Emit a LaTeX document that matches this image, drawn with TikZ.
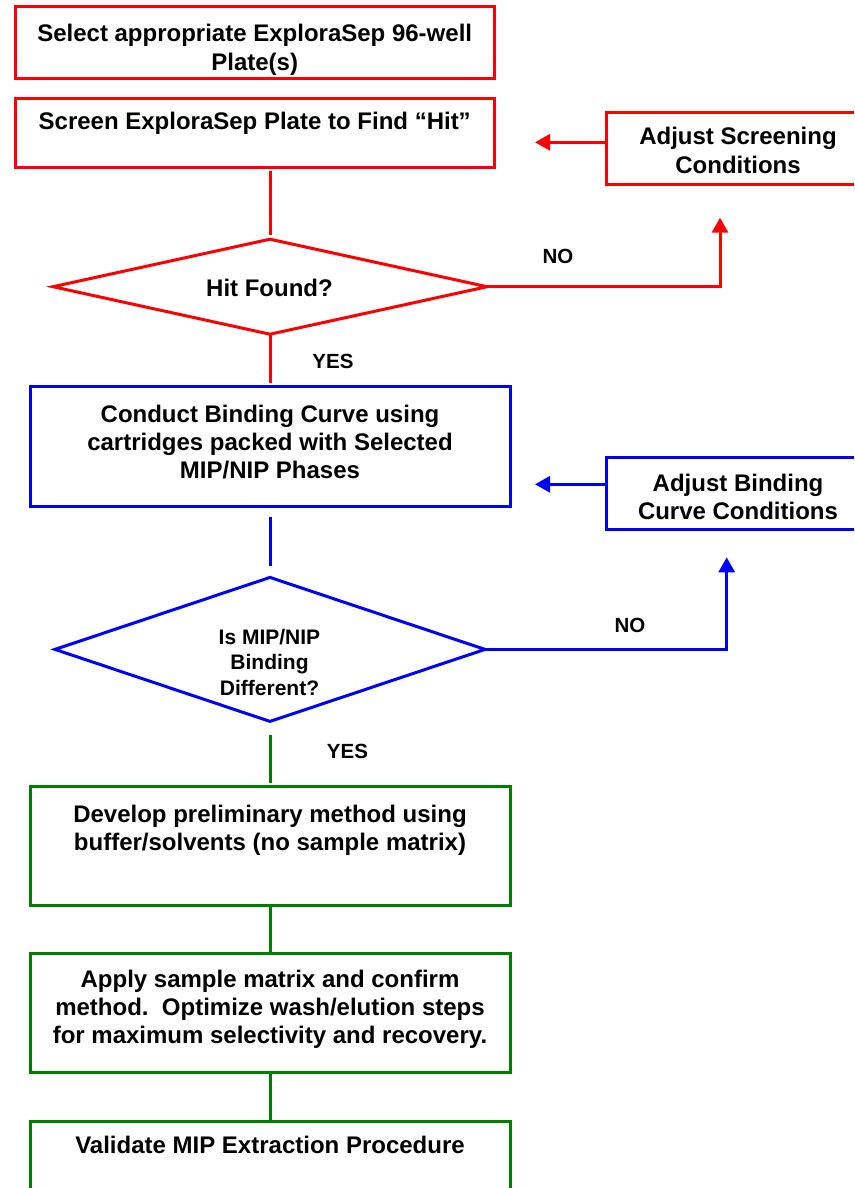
\documentclass[tikz,border=0pt]{standalone}
\usepackage{fontspec}
\setmainfont{Liberation Sans}
\usetikzlibrary{shapes.geometric,arrows.meta}
\definecolor{fred}{RGB}{255,0,0}
\definecolor{fblue}{RGB}{0,0,255}
\definecolor{fgreen}{RGB}{0,128,0}
% centred multi-line text whose baseline is the first line's
\newcommand\stack[1]{\begin{tabular}[t]{@{}c@{}}#1\end{tabular}}
\frenchspacing

\tikzset{
  stepbox/.style={draw, line width=3pt, rectangle, inner sep=0pt, outer sep=0pt},
  decision/.style={draw, line width=3pt, diamond, inner sep=0pt, outer sep=0pt},
  txt/.style={anchor=base, inner sep=0pt, outer sep=0pt, font=\bfseries\fontsize{24}{28.2}\selectfont},
  qtxt/.style={anchor=base, inner sep=0pt, outer sep=0pt, font=\bfseries\fontsize{21}{25.5}\selectfont},
  answer/.style={anchor=base, inner sep=0pt, outer sep=0pt, font=\bfseries\fontsize{20.5}{24}\selectfont},
  link/.style={line width=3pt},
  tip/.style={-{Triangle[length=15pt,width=16pt]}},
}

\begin{document}
\begin{tikzpicture}[x=1pt, y=-1pt]
  \useasboundingbox (0,0) rectangle (854,1188);
  \fill[white] (0,0) rectangle (854,1188);
  \clip (0,0) rectangle (854,1188);

  % ---- screening stage (red)
  \node[stepbox, draw=fred, minimum width=479.5pt, minimum height=72pt] (b1) at (254.75,43) {};
  \node[txt] (t1) at (254.7,42) {\stack{Select appropriate ExploraSep 96-well\\[0.3pt]Plate(s)}};

  \node[stepbox, draw=fred, minimum width=479.5pt, minimum height=69pt] (b2) at (254.75,133) {};
  \node[txt] (t2) at (254.7,130) {Screen ExploraSep Plate to Find “Hit”};

  \node[stepbox, draw=fred, minimum width=273.3pt, minimum height=71.6pt] (adj1) at (743.35,148.5) {};
  \node[txt] (ta1) at (738,145) {\stack{Adjust Screening\\Conditions}};

  \node[decision, draw=fred, minimum width=434pt, minimum height=95pt] (d1) at (270,286.7) {};
  \node[txt] (td1) at (269.5,296) {Hit Found?};

  \node[answer] (no1) at (558,263) {NO};
  \node[answer] (yes1) at (333,368) {YES};

  \coordinate (n1) at (720,217.7);
  \coordinate (a1) at (535,142.3);

  \draw[link, fred, shorten <=3.5pt, shorten >=4.5pt] (d1.north |- b2.south) -- (d1.north);
  \draw[link, fred, shorten >=4pt] (d1.south) -- (d1.south |- 0,386.7);
  \draw[link, fred, tip] (d1.east) -| (n1);
  \draw[link, fred, tip] (adj1.west |- a1) -- (a1);

  % ---- binding stage (blue)
  \node[stepbox, draw=fblue, minimum width=480pt, minimum height=119.3pt] (b3) at (270,446.35) {};
  \node[txt] (t3) at (270,422) {\stack{Conduct Binding Curve using\\cartridges packed with Selected\\MIP/NIP Phases}};

  \node[stepbox, draw=fblue, minimum width=273.3pt, minimum height=71.3pt] (adj2) at (743.35,493.35) {};
  \node[txt] (ta2) at (738,491) {\stack{Adjust Binding\\Curve Conditions}};

  \node[decision, draw=fblue, minimum width=430pt, minimum height=144pt] (d2) at (270,649.4) {};
  \node[qtxt] (td2) at (269.5,644) {\stack{Is MIP/NIP\\Binding\\Different?}};

  \node[answer] (no2) at (630,632) {NO};
  \node[answer] (yes2) at (347.5,758) {YES};

  \coordinate (n2) at (726.7,557.3);
  \coordinate (a2) at (535,484.3);

  \draw[link, fblue, shorten <=11pt, shorten >=11.5pt] (b3.south) -- (d2.north);
  \draw[link, fblue, tip] (d2.east) -| (n2);
  \draw[link, fblue, tip] (adj2.west |- a2) -- (a2);

  % ---- method development stage (green)
  \node[stepbox, draw=fgreen, minimum width=480pt, minimum height=118.8pt] (g1) at (270,846.1) {};
  \node[txt] (t4) at (270,822) {\stack{Develop preliminary method using\\buffer/solvents (no sample matrix)}};

  \node[stepbox, draw=fgreen, minimum width=480pt, minimum height=119.2pt] (g2) at (270,1012.9) {};
  \node[txt] (t5) at (270,987) {\stack{Apply sample matrix and confirm\\method.\ \ Optimize wash/elution steps\\for maximum selectivity and recovery.}};

  \node[stepbox, draw=fgreen, minimum width=480pt, minimum height=119pt] (g3) at (270,1180.5) {};
  \node[txt] (t6) at (270,1153) {Validate MIP Extraction Procedure};

  \draw[link, fgreen, shorten <=13.5pt, shorten >=3.5pt] (d2.south) -- (g1.north);
  \draw[link, fgreen] (g1.south) -- (g2.north);
  \draw[link, fgreen] (g2.south) -- (g3.north);
\end{tikzpicture}
\end{document}
